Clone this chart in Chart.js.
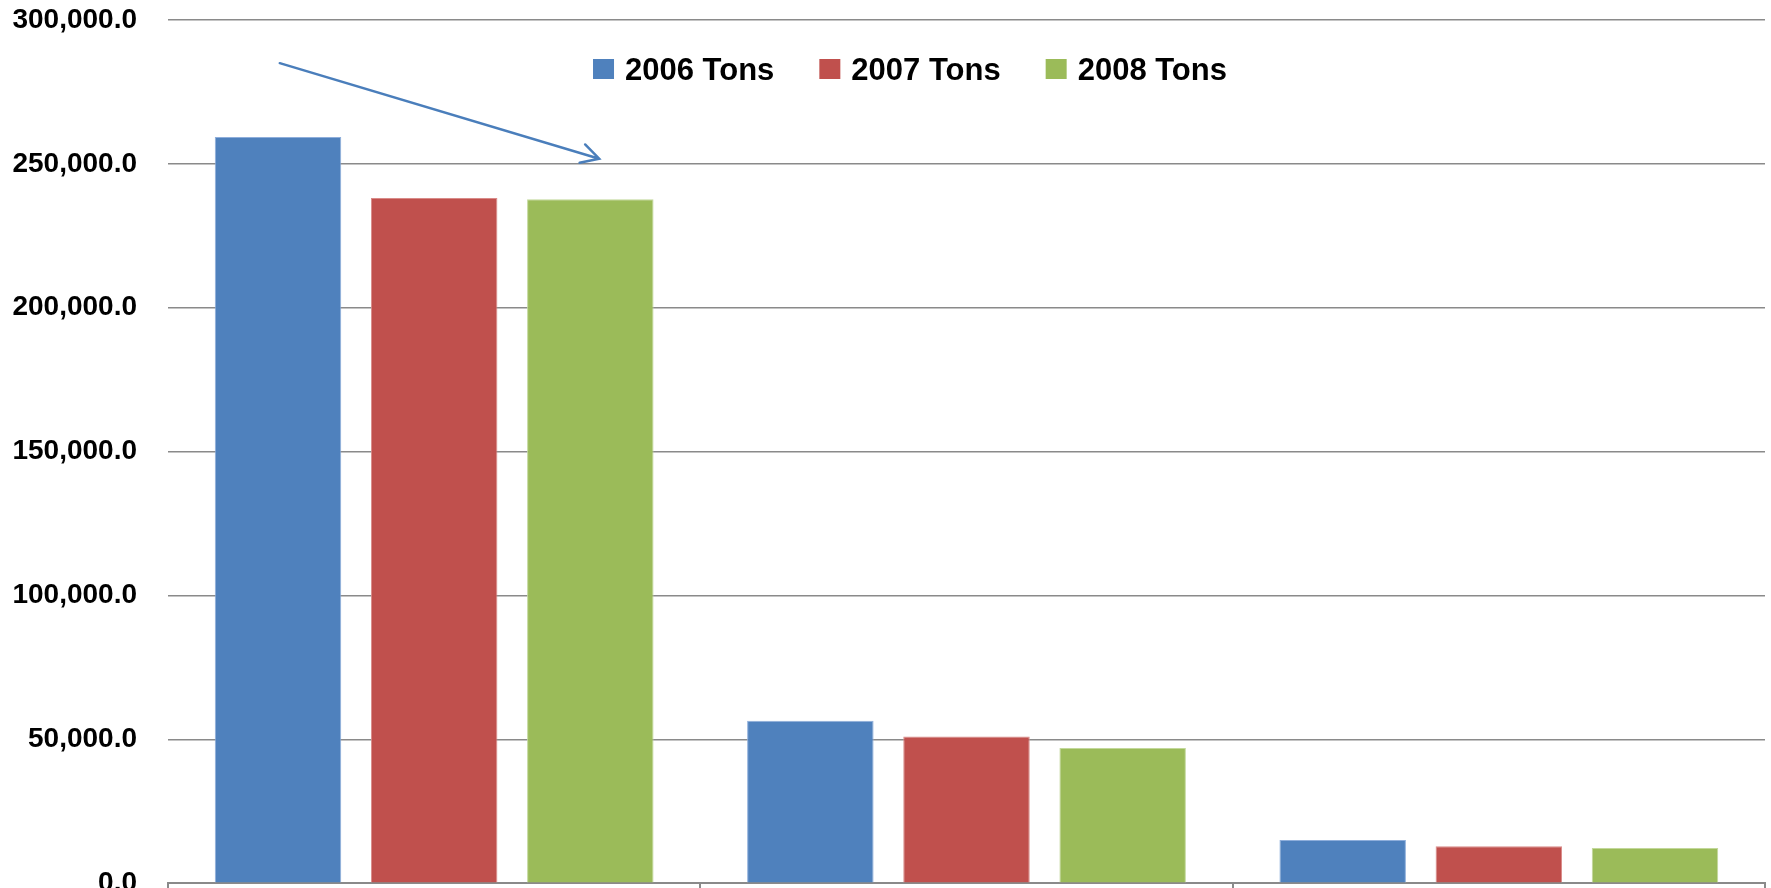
<!DOCTYPE html>
<html>
<head>
<meta charset="utf-8">
<script src="https://cdn.jsdelivr.net/npm/chart.js@4.4.1/dist/chart.umd.min.js"></script>
<style>
  html, body { margin: 0; padding: 0; background: #fff; overflow: hidden; }
</style>
</head>
<body>
<canvas id="tons" width="1771" height="900"></canvas>
<script>
// three groups, tonnage per year
const categories = ['', '', ''];
const tons2006 = [259300, 56500, 15000];
const tons2007 = [238100, 51000, 12800];
const tons2008 = [237700, 47000, 12200];
const yTicks = [0, 50000, 100000, 150000, 200000, 250000, 300000];

const FONT = '"Liberation Sans", Arial, sans-serif';

// legend sits inside the plot, over the gridlines
const topLegend = {
  id: 'topLegend',
  afterDraw(chart) {
    const ctx = chart.ctx;
    ctx.save();
    ctx.font = 'bold 31px ' + FONT;
    ctx.textBaseline = 'alphabetic';
    const box = 21, gap = 11, space = 45;
    const items = chart.data.datasets.map(ds => ({
      text: ds.label,
      color: ds.backgroundColor,
      w: ctx.measureText(ds.label).width
    }));
    const total = items.reduce((s, it) => s + box + gap + it.w, 0) + space * (items.length - 1);
    let x = 910 - total / 2;
    items.forEach(it => {
      ctx.fillStyle = it.color;
      ctx.fillRect(x, 59, box, 20);
      ctx.fillStyle = '#000';
      ctx.fillText(it.text, x + box + gap, 80);
      x += box + gap + it.w + space;
    });
    ctx.restore();
  }
};

// open-headed arrow pointing at the first group
const arrow = {
  id: 'arrow',
  afterDraw(chart) {
    const xs = chart.scales.x, ys = chart.scales.y;
    const x0 = xs.getPixelForValue(-0.29), y0 = ys.getPixelForValue(285000);
    const x1 = xs.getPixelForValue(0.31), y1 = ys.getPixelForValue(251800);
    const a = Math.atan2(y1 - y0, x1 - x0);
    const len = 20, spread = 0.5;
    const ctx = chart.ctx;
    ctx.save();
    ctx.strokeStyle = '#4A7EBB';
    ctx.lineWidth = 2.5;
    ctx.lineCap = 'round';
    ctx.beginPath();
    ctx.moveTo(x0, y0);
    ctx.lineTo(x1, y1);
    ctx.moveTo(x1 - len * Math.cos(a - spread), y1 - len * Math.sin(a - spread));
    ctx.lineTo(x1, y1);
    ctx.lineTo(x1 - len * Math.cos(a + spread), y1 - len * Math.sin(a + spread));
    ctx.stroke();
    ctx.restore();
  }
};

const bar = {
  categoryPercentage: 0.88,
  barPercentage: 0.81,
  borderWidth: 1
};

new Chart(document.getElementById('tons'), {
  type: 'bar',
  data: {
    labels: categories,
    datasets: [
      Object.assign({ label: '2006 Tons', data: tons2006, backgroundColor: '#4F81BD', borderColor: '#8EAEDB' }, bar),
      Object.assign({ label: '2007 Tons', data: tons2007, backgroundColor: '#C0504D', borderColor: '#D98A88' }, bar),
      Object.assign({ label: '2008 Tons', data: tons2008, backgroundColor: '#9BBB59', borderColor: '#C2D89A' }, bar)
    ]
  },
  options: {
    responsive: false,
    animation: false,
    layout: { padding: { top: 20, right: 6, bottom: 0, left: 0 } },
    plugins: {
      legend: { display: false },
      tooltip: { enabled: false }
    },
    scales: {
      x: {
        offset: true,
        ticks: { display: false },
        grid: {
          offset: true,
          drawOnChartArea: false,
          drawTicks: true,
          tickLength: 8,
          color: '#8A8A8A',
          lineWidth: 2
        },
        border: { color: '#8A8A8A', width: 2 },
        afterFit(s) { s.height = 16.5; }
      },
      y: {
        min: 0,
        max: 300000,
        afterBuildTicks(s) { s.ticks = yTicks.map(v => ({ value: v })); },
        ticks: {
          padding: 0,
          color: '#000',
          font: { family: FONT, size: 28, weight: 'bold' },
          callback: v => v.toLocaleString('en-US', { minimumFractionDigits: 1, maximumFractionDigits: 1 })
        },
        // invisible tick marks keep the gap between labels and plot
        grid: { drawTicks: true, tickLength: 31, tickColor: 'rgba(0,0,0,0)', color: '#8A8A8A', lineWidth: 1.5 },
        border: { display: false },
        afterFit(s) { s.width = 168; }
      }
    }
  },
  plugins: [topLegend, arrow]
});
</script>
</body>
</html>
